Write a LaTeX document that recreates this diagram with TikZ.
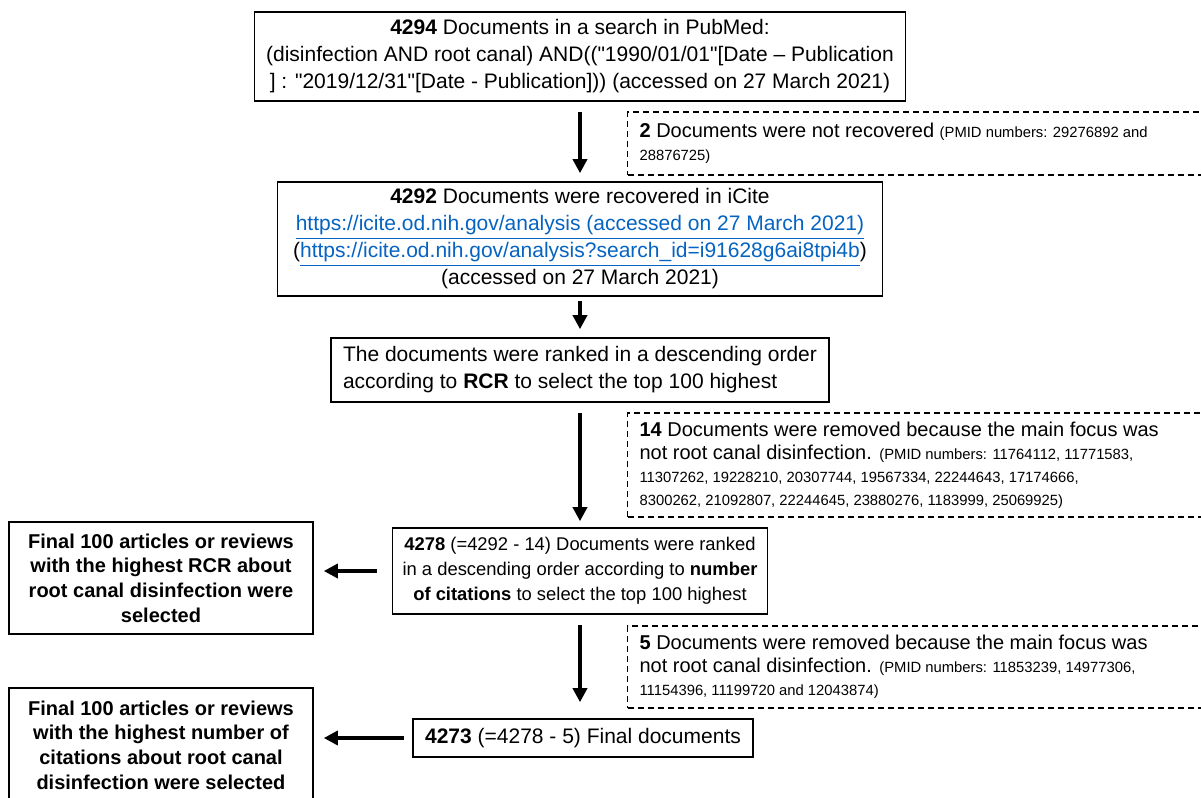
\documentclass[tikz,border=0pt]{standalone}
\usepackage{fontspec}
\setmainfont{Liberation Sans}[Ligatures=TeXOff]
\usetikzlibrary{arrows.meta,positioning}
\definecolor{linkblue}{RGB}{5,99,193}
\newcommand{\lnk}[1]{\textcolor{linkblue}{\underline{#1}}}
\newcommand{\pmid}{\fontsize{7.4}{9}\selectfont\spaceskip=0pt\xspaceskip=0pt}

\begin{document}
\begin{tikzpicture}[x=0.5pt, y=-0.5pt, >={Triangle[length=7pt,width=7pt]},
  box/.style={draw, line width=0.8pt, inner sep=0pt, align=center, font=\fontsize{10.5}{13.5}\selectfont},
  sidebox/.style={draw, line width=0.8pt, inner sep=0pt, align=center, minimum width=152pt, font=\fontsize{10}{12.3}\selectfont\bfseries},
  dropbox/.style={draw, dash pattern=on 3pt off 2pt, line width=0.6pt, anchor=west, inner xsep=6pt, inner ysep=0pt, text width=290pt, align=flush left, font=\fontsize{10}{11.5}\selectfont},
  flow/.style={->, line width=1.7pt}]
  \useasboundingbox (0,0) rectangle (1201,798);

  % main column
  \node[box, minimum width=325.5pt, minimum height=44.5pt] (search) at (580,56.5)
    {\textbf{4294} Documents in a search in PubMed:\\
     (disinfection AND root canal) AND(("1990/01/01"[Date – Publication\\
     ] : "2019/12/31"[Date - Publication]))  (accessed on 27 March 2021)};
  \node[box, minimum width=302.5pt, minimum height=57pt] (icite) at (580,239)
    {\textbf{4292} Documents were recovered in iCite\\
     \lnk{https://icite.od.nih.gov/analysis (accessed on 27 March 2021)}\\
     (\lnk{https://icite.od.nih.gov/analysis?search\_id=i91628g6ai8tpi4b})\\
     (accessed on 27 March 2021)};
  \node[box, align=left, inner xsep=6pt, minimum width=246.5pt, minimum height=32pt] (rcr) at (580,370)
    {The documents were ranked in a descending order\\
     according to \textbf{RCR} to select the top 100 highest};
  \node[box, minimum width=187.5pt, minimum height=43pt, font=\fontsize{9.2}{12.5}\selectfont] (cites) at (580,571)
    {\textbf{4278} (=4292 - 14) Documents were ranked\\
     in a descending order according to \textbf{number}\\
     \textbf{of citations} to select the top 100 highest};
  \node[box, minimum width=170pt, minimum height=19pt] (final) at (583,738)
    {\textbf{4273} (=4278 - 5) Final documents};

  % excluded records
  \node[dropbox, minimum height=31.5pt] (lost) at (627,143.5)
    {\textbf{2} Documents were not recovered {\pmid (PMID numbers: 29276892 and}\\
     {\pmid 28876725)}};
  \node[dropbox, minimum height=52pt] (out14) at (627,465)
    {\textbf{14} Documents were removed because the main focus was\\
     not root canal disinfection. {\pmid (PMID numbers: 11764112, 11771583,}\\
     {\pmid 11307262, 19228210, 20307744, 19567334, 22244643, 17174666,}\\
     {\pmid 8300262, 21092807, 22244645, 23880276, 1183999, 25069925)}};
  \node[dropbox, minimum height=41pt] (out5) at (627,667)
    {\textbf{5} Documents were removed because the main focus was\\
     not root canal disinfection. {\pmid (PMID numbers: 11853239, 14977306,}\\
     {\pmid 11154396, 11199720 and 12043874)}};

  % final lists
  \node[sidebox, minimum height=56pt] (topRCR) at (161,578)
    {Final 100 articles or reviews\\ with the highest RCR about\\
     root canal disinfection were\\ selected};
  \node[sidebox, minimum height=57pt] (topCites) at (161,745)
    {Final 100 articles or reviews\\ with the highest number of\\
     citations about root canal\\ disinfection were selected};

  \draw[flow, shorten <=5pt, shorten >=4pt] (search) -- (icite);
  \draw[flow, shorten <=2pt, shorten >=4pt] (icite) -- (rcr);
  \draw[flow, shorten <=5pt, shorten >=3pt] (rcr) -- (cites);
  \draw[flow, shorten <=5pt, shorten >=8pt] (cites.south) -- (cites.south |- final.north);
  \draw[flow, shorten <=7.5pt, shorten >=5pt] (cites.west) -- (cites.west -| topRCR.east);
  \draw[flow, shorten <=4pt, shorten >=5pt] (final.west) -- (final.west -| topCites.east);
\end{tikzpicture}
\end{document}
